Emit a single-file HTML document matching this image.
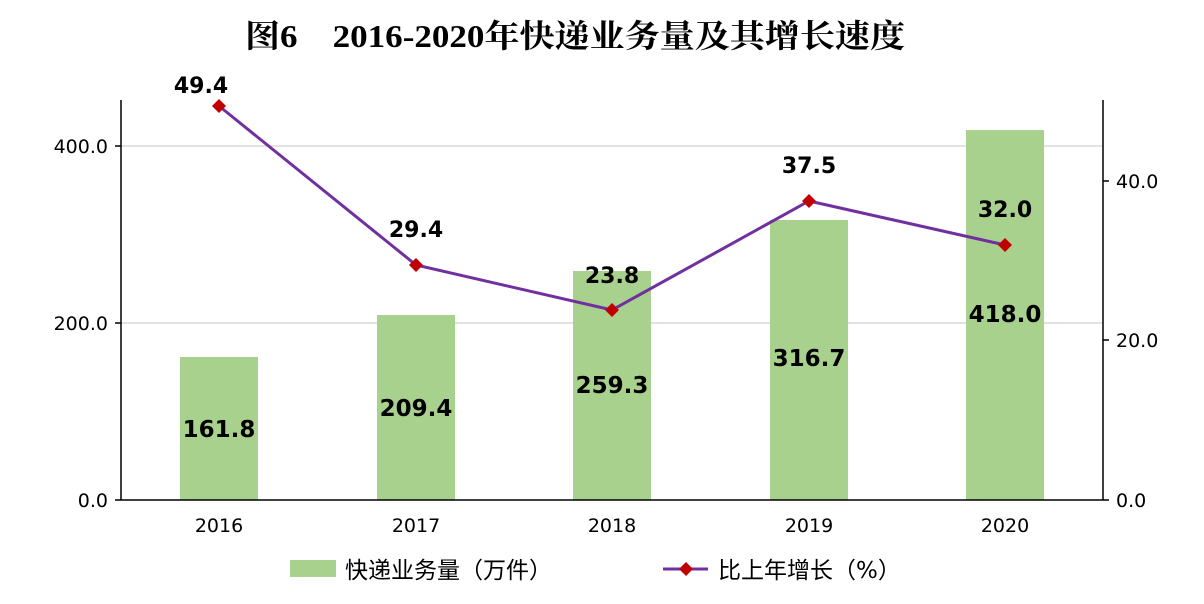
<!DOCTYPE html>
<html><head><meta charset="utf-8"><style>
body{margin:0;background:#fff;}
svg text{font-family:"DejaVu Sans","Noto Sans CJK SC",sans-serif;}
</style></head><body>
<svg width="1204" height="599" viewBox="0 0 1204 599" xmlns="http://www.w3.org/2000/svg">
<rect width="1204" height="599" fill="#fff"/>
<text x="245" y="47" font-size="32" font-weight="bold" textLength="660" lengthAdjust="spacingAndGlyphs" style="font-family:'Liberation Serif','Noto Serif CJK SC',serif">图6　2016-2020年快递业务量及其增长速度</text>
<g stroke="#d9d9d9" stroke-width="1.5">
<line x1="121" y1="146" x2="1103" y2="146"/>
<line x1="121" y1="323" x2="1103" y2="323"/>
</g>
<g fill="#a9d18e">
<rect x="180" y="357" width="78" height="143"/>
<rect x="377" y="315" width="78" height="185"/>
<rect x="573" y="271" width="78" height="229"/>
<rect x="770" y="220" width="78" height="280"/>
<rect x="966" y="130" width="78" height="370"/>
</g>
<g stroke="#000" stroke-width="1.5" fill="none">
<line x1="121" y1="100" x2="121" y2="500"/>
<line x1="1103" y1="100" x2="1103" y2="500"/>
<line x1="121" y1="500" x2="1103" y2="500"/>
<line x1="115" y1="146" x2="121" y2="146"/><line x1="115" y1="323" x2="121" y2="323"/><line x1="115" y1="500" x2="121" y2="500"/>
<line x1="1103" y1="181" x2="1109" y2="181"/><line x1="1103" y1="340" x2="1109" y2="340"/><line x1="1103" y1="500" x2="1109" y2="500"/>
</g>
<g font-size="19" fill="#000">
<text x="108" y="153" text-anchor="end">400.0</text>
<text x="108" y="330" text-anchor="end">200.0</text>
<text x="108" y="507" text-anchor="end">0.0</text>
<text x="1116" y="188">40.0</text>
<text x="1116" y="347">20.0</text>
<text x="1116" y="507">0.0</text>
<text x="219" y="532" text-anchor="middle">2016</text>
<text x="416" y="532" text-anchor="middle">2017</text>
<text x="612" y="532" text-anchor="middle">2018</text>
<text x="809" y="532" text-anchor="middle">2019</text>
<text x="1005" y="532" text-anchor="middle">2020</text>
</g>
<g font-size="23" font-weight="bold" fill="#000" text-anchor="middle">
<text x="219" y="437">161.8</text>
<text x="416" y="416">209.4</text>
<text x="612" y="393">259.3</text>
<text x="809" y="366">316.7</text>
<text x="1005" y="322">418.0</text>
</g>
<g font-size="22" font-weight="bold" fill="#000" text-anchor="middle">
<text x="201" y="93">49.4</text>
<text x="416" y="237">29.4</text>
<text x="612" y="283">23.8</text>
<text x="809" y="173">37.5</text>
<text x="1005" y="217">32.0</text>
</g>
<polyline points="219,106 416,265 612,310 809,201 1005,245" fill="none" stroke="#7030a0" stroke-width="3"/>
<g fill="#c00000">
<polygon points="219,99 226,106 219,113 212,106"/>
<polygon points="416,258 423,265 416,272 409,265"/>
<polygon points="612,303 619,310 612,317 605,310"/>
<polygon points="809,194 816,201 809,208 802,201"/>
<polygon points="1005,238 1012,245 1005,252 998,245"/>
</g>
<rect x="290" y="560" width="46" height="17" fill="#a9d18e"/>
<text x="345" y="578" font-size="23">快递业务量（万件）</text>
<line x1="663" y1="569" x2="708" y2="569" stroke="#7030a0" stroke-width="3"/>
<polygon points="686,562 693,569 686,576 679,569" fill="#c00000"/>
<text x="718" y="578" font-size="23">比上年增长（%）</text>
</svg>
</body></html>
